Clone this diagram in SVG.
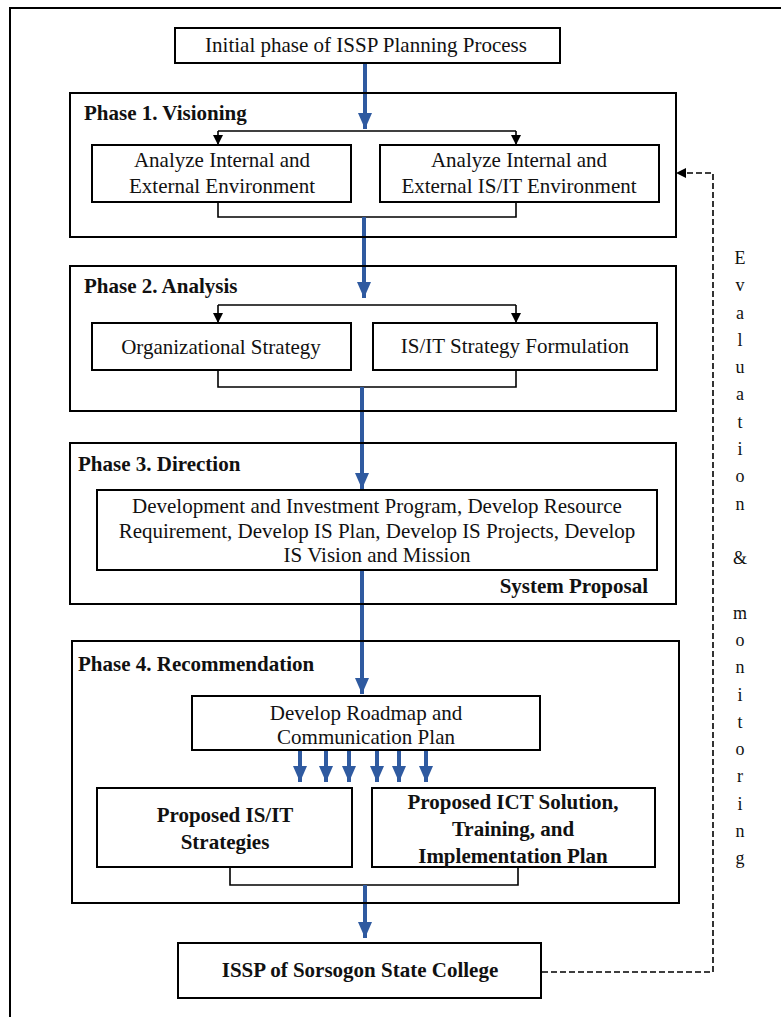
<svg xmlns="http://www.w3.org/2000/svg" width="781" height="1017" viewBox="0 0 781 1017">
<defs>
<style>
.box{fill:#fff;stroke:#000;stroke-width:2}
.frame{fill:none;stroke:#000;stroke-width:2}
.t{font-family:"Liberation Serif","Times New Roman",serif;font-size:21px;fill:#111;text-anchor:middle}
.b{font-weight:bold}
.lbl{font-family:"Liberation Serif","Times New Roman",serif;font-size:21px;font-weight:bold;fill:#111}
.blue{stroke:#2F5AA0;stroke-width:4;fill:none;marker-end:url(#bh)}
.blk{stroke:#000;stroke-width:1.6;fill:none}
.dash{stroke:#000;stroke-width:1.6;fill:none;stroke-dasharray:6,3}
.v{font-family:"Liberation Serif","Times New Roman",serif;font-size:18px;fill:#111;text-anchor:middle}
</style>
<marker id="bh" markerUnits="userSpaceOnUse" markerWidth="16" markerHeight="16" refX="16" refY="7" orient="auto" viewBox="0 0 16 14">
<path d="M0,0 L16,7 L0,14 Z" fill="#2F5AA0"/>
</marker>
<marker id="kh" markerUnits="userSpaceOnUse" markerWidth="10" markerHeight="10" refX="10" refY="5" orient="auto" viewBox="0 0 10 10">
<path d="M0,0 L10,5 L0,10 Z" fill="#000"/>
</marker>
</defs>
<rect width="781" height="1017" fill="#fff"/>
<path d="M10,1017 V8 H781" class="frame"/>

<g id="connectors">
<line x1="365" y1="63" x2="365" y2="129" class="blue"/>
<path d="M218,131 H516" class="blk"/>
<line x1="218" y1="131" x2="218" y2="145" class="blk" marker-end="url(#kh)"/>
<line x1="516" y1="131" x2="516" y2="145" class="blk" marker-end="url(#kh)"/>
<path d="M218,202 V217 H516 V202" class="blk"/>
<line x1="364" y1="217" x2="364" y2="298" class="blue"/>
<path d="M218,305 H516" class="blk"/>
<line x1="218" y1="305" x2="218" y2="323" class="blk" marker-end="url(#kh)"/>
<line x1="516" y1="305" x2="516" y2="323" class="blk" marker-end="url(#kh)"/>
<path d="M218,370 V387 H516 V370" class="blk"/>
<line x1="362" y1="387" x2="362" y2="489" class="blue"/>
<line x1="362" y1="570" x2="362" y2="694" class="blue"/>
<line x1="300" y1="750" x2="300" y2="782" class="blue"/>
<line x1="326" y1="750" x2="326" y2="782" class="blue"/>
<line x1="349" y1="750" x2="349" y2="782" class="blue"/>
<line x1="377" y1="750" x2="377" y2="782" class="blue"/>
<line x1="399" y1="750" x2="399" y2="782" class="blue"/>
<line x1="426" y1="750" x2="426" y2="782" class="blue"/>
<path d="M230,867 V885 H518 V867" class="blk"/>
<line x1="365" y1="885" x2="365" y2="938" class="blue"/>
<path d="M542,972 H713 V173 H676" class="dash" marker-end="url(#kh)"/>
</g>

<g id="initial">
<rect x="175" y="28" width="385" height="35" class="box"/>
<text x="366" y="52" class="t">Initial phase of ISSP Planning Process</text>
</g>

<g id="phase1">
<rect x="70" y="93" width="606" height="144" class="frame"/>
<text x="84" y="120" class="lbl">Phase 1. Visioning</text>
</g>
<g id="analyze-env">
<rect x="92" y="145" width="259" height="57" class="box"/>
<text x="222" y="167" class="t">Analyze Internal and</text>
<text x="222" y="193" class="t">External Environment</text>
</g>
<g id="analyze-isit">
<rect x="380" y="145" width="279" height="57" class="box"/>
<text x="519" y="167" class="t">Analyze Internal and</text>
<text x="519" y="193" class="t">External IS/IT Environment</text>
</g>

<g id="phase2">
<rect x="70" y="266" width="606" height="145" class="frame"/>
<text x="84" y="293" class="lbl">Phase 2. Analysis</text>
</g>
<g id="org-strategy">
<rect x="92" y="323" width="259" height="47" class="box"/>
<text x="221" y="354" class="t">Organizational Strategy</text>
</g>
<g id="isit-strategy">
<rect x="373" y="323" width="284" height="47" class="box"/>
<text x="515" y="353" class="t">IS/IT Strategy Formulation</text>
</g>

<g id="phase3">
<rect x="70" y="443" width="606" height="161" class="frame"/>
<text x="78" y="471" class="lbl">Phase 3. Direction</text>
<text x="648" y="593" class="lbl" text-anchor="end">System Proposal</text>
</g>
<g id="direction-tasks">
<rect x="97" y="490" width="560" height="80" class="box"/>
<text x="377" y="513" class="t">Development and Investment Program, Develop Resource</text>
<text x="377" y="538" class="t">Requirement, Develop IS Plan, Develop IS Projects, Develop</text>
<text x="377" y="562" class="t">IS Vision and Mission</text>
</g>

<g id="phase4">
<rect x="72" y="641" width="607" height="262" class="frame"/>
<text x="78" y="671" class="lbl">Phase 4. Recommendation</text>
</g>
<g id="roadmap">
<rect x="192" y="696" width="348" height="54" class="box"/>
<text x="366" y="720" class="t">Develop Roadmap and</text>
<text x="366" y="744" class="t">Communication Plan</text>
</g>
<g id="proposed-isit">
<rect x="97" y="788" width="255" height="79" class="box"/>
<text x="225" y="822" class="t b">Proposed IS/IT</text>
<text x="225" y="849" class="t b">Strategies</text>
</g>
<g id="proposed-ict">
<rect x="372" y="788" width="283" height="79" class="box"/>
<text x="513" y="809" class="t b">Proposed ICT Solution,</text>
<text x="513" y="836" class="t b">Training, and</text>
<text x="513" y="863" class="t b">Implementation Plan</text>
</g>

<g id="issp">
<rect x="178" y="943" width="363" height="55" class="box"/>
<text x="360" y="977" class="t b">ISSP of Sorsogon State College</text>
</g>

<g id="eval-label">
<text class="v" x="740" y="264">E</text>
<text class="v" x="740" y="291">v</text>
<text class="v" x="740" y="319">a</text>
<text class="v" x="740" y="346">l</text>
<text class="v" x="740" y="373">u</text>
<text class="v" x="740" y="400">a</text>
<text class="v" x="740" y="428">t</text>
<text class="v" x="740" y="455">i</text>
<text class="v" x="740" y="482">o</text>
<text class="v" x="740" y="510">n</text>
<text class="v" x="740" y="564">&amp;</text>
<text class="v" x="740" y="619">m</text>
<text class="v" x="740" y="646">o</text>
<text class="v" x="740" y="673">n</text>
<text class="v" x="740" y="701">i</text>
<text class="v" x="740" y="728">t</text>
<text class="v" x="740" y="755">o</text>
<text class="v" x="740" y="782">r</text>
<text class="v" x="740" y="810">i</text>
<text class="v" x="740" y="837">n</text>
<text class="v" x="740" y="864">g</text>
</g>
</svg>
